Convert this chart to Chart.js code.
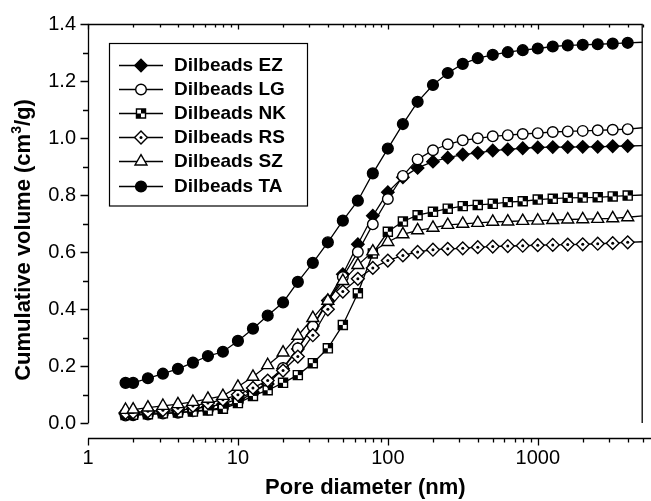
<!DOCTYPE html>
<html>
<head>
<meta charset="utf-8">
<script src="https://cdn.jsdelivr.net/npm/chart.js@4/dist/chart.umd.min.js"></script>
<style>
  body { margin: 0; background: #fff; }
</style>
</head>
<body>
<canvas id="carta_pores" width="651" height="501"></canvas>
<script>
// pore diameters (nm), points every 0.1 decade; the last one sits on the right frame
const poreDiameters = [1.78, 2.0, 2.51, 3.16, 3.98, 5.01, 6.31, 7.94, 10, 12.6, 15.8, 20, 25.1, 31.6, 39.8, 50.1, 63.1, 79.4,
    100, 126, 158, 200, 251, 316, 398, 501, 631, 794, 1000, 1259, 1585, 1995, 2512, 3162, 3981, 5012]

const seriesNames = ["Dilbeads EZ", "Dilbeads LG", "Dilbeads NK", "Dilbeads RS", "Dilbeads SZ", "Dilbeads TA"]

const volumeEZ = [0.032, 0.033, 0.037, 0.040, 0.044, 0.050, 0.057, 0.066, 0.085, 0.108, 0.137, 0.190, 0.260, 0.340, 0.430, 0.522,
    0.627, 0.727, 0.810, 0.862, 0.895, 0.917, 0.931, 0.942, 0.948, 0.956, 0.960, 0.964, 0.967, 0.968, 0.968, 0.969, 0.969, 0.971, 0.972, 0.973]
const volumeLG = [0.026, 0.027, 0.030, 0.033, 0.036, 0.041, 0.047, 0.053, 0.075, 0.105, 0.145, 0.193, 0.262, 0.339, 0.425, 0.512,
    0.600, 0.697, 0.786, 0.867, 0.925, 0.957, 0.978, 0.992, 0.999, 1.006, 1.010, 1.014, 1.017, 1.021, 1.023, 1.025, 1.027, 1.029, 1.031, 1.036]
const volumeNK = [0.028, 0.029, 0.031, 0.034, 0.037, 0.040, 0.044, 0.050, 0.070, 0.095, 0.115, 0.141, 0.168, 0.210, 0.262, 0.344,
    0.455, 0.595, 0.671, 0.707, 0.729, 0.741, 0.752, 0.761, 0.765, 0.769, 0.775, 0.778, 0.784, 0.787, 0.790, 0.791, 0.792, 0.795, 0.798, 0.800]
const volumeRS = [0.036, 0.037, 0.041, 0.045, 0.052, 0.060, 0.070, 0.082, 0.099, 0.123, 0.149, 0.184, 0.233, 0.308, 0.399, 0.461,
    0.506, 0.544, 0.570, 0.588, 0.600, 0.608, 0.611, 0.613, 0.617, 0.619, 0.621, 0.622, 0.624, 0.625, 0.626, 0.627, 0.629, 0.631, 0.634, 0.636]
const volumeSZ = [0.046, 0.047, 0.054, 0.060, 0.066, 0.074, 0.085, 0.095, 0.127, 0.162, 0.203, 0.247, 0.306, 0.368, 0.429, 0.498,
    0.554, 0.602, 0.635, 0.662, 0.676, 0.685, 0.695, 0.699, 0.702, 0.706, 0.707, 0.709, 0.710, 0.712, 0.714, 0.715, 0.716, 0.718, 0.722, 0.727]
const volumeTA = [0.141, 0.141, 0.157, 0.173, 0.190, 0.212, 0.235, 0.250, 0.288, 0.331, 0.377, 0.423, 0.495, 0.562, 0.634, 0.710,
    0.780, 0.876, 0.963, 1.049, 1.127, 1.186, 1.228, 1.260, 1.280, 1.292, 1.301, 1.308, 1.314, 1.321, 1.325, 1.327, 1.329, 1.331, 1.334, 1.336]

const seriesValues = [volumeEZ, volumeLG, volumeNK, volumeRS, volumeSZ, volumeTA]

const xTickLabels = [1, 10, 100, 1000]
const yMin = 0, yMax = 1.4, yStep = 0.1

Chart.defaults.font.family = "'Liberation Sans', Arial, Helvetica, sans-serif"
Chart.defaults.color = "#000"

// marker look for each series: style, radius, fill, draw order, extra detail
const markers = [
    { style: "rectRot", radius: 6.2, fill: "#000", order: 5, extra: null },
    { style: "circle", radius: 5.3, fill: "#fff", order: 4, extra: null },
    { style: "rect", radius: 6.4, fill: "#fff", order: 3, extra: "checker" },
    { style: "rectRot", radius: 6.4, fill: "#fff", order: 2, extra: "dot" },
    { style: "triangle", radius: 6.9, fill: "#fff", order: 1, extra: null },
    { style: "circle", radius: 5.4, fill: "#000", order: 6, extra: null }
]

// the NK checker squares and the RS centre dots, painted on top of the built-in marker
function drawExtra(ctx, kind, r, x, y) {
    ctx.fillStyle = "#000"
    if (kind === "checker") {
        const h = Math.SQRT1_2 * r
        ctx.fillRect(x, y - h, h, h)
        ctx.fillRect(x - h, y, h, h)
    } else if (kind === "dot") {
        ctx.beginPath()
        ctx.arc(x, y, 1.5, 0, Math.PI * 2)
        ctx.fill()
    }
}

const lastIndex = poreDiameters.length - 1

const datasets = seriesNames.map((name, s) => ({
    label: name,
    data: seriesValues[s].map((v, i) => ({ x: poreDiameters[i], y: v })),
    order: markers[s].order,
    borderColor: "#000",
    borderWidth: 1.3,
    tension: 0,
    fill: false,
    pointStyle: markers[s].style,
    pointRadius: (ctx) => ctx.dataIndex === lastIndex ? 0 : markers[s].radius,
    pointHoverRadius: (ctx) => ctx.dataIndex === lastIndex ? 0 : markers[s].radius,
    pointBackgroundColor: markers[s].fill,
    pointBorderColor: "#000",
    pointBorderWidth: 1.4
}))

const axisDecor = {
    id: "axisDecor",
    afterDatasetDraw(chart, args) {
        const kind = markers[args.index].extra
        if (!kind) return
        const { ctx, chartArea: a } = chart
        ctx.save()
        args.meta.data.forEach((el, i) => {
            if (i === lastIndex || el.x < a.left || el.x > a.right) return
            drawExtra(ctx, kind, markers[args.index].radius, el.x, el.y)
        })
        ctx.restore()
    },
    afterDraw(chart) {
        const { ctx, chartArea: a, scales: { x, y } } = chart
        ctx.save()
        ctx.strokeStyle = "#000"
        ctx.lineWidth = 1.3
        ctx.beginPath()
        ctx.moveTo(a.left + 0.5, a.bottom)
        ctx.lineTo(a.left + 0.5, a.top + 0.5)
        ctx.lineTo(a.right - 0.5, a.top + 0.5)
        ctx.lineTo(a.right - 0.5, a.bottom)
        ctx.stroke()

        // y ticks (outward on the left)
        ctx.beginPath()
        y.ticks.forEach(t => {
            const py = Math.round(y.getPixelForValue(t.value)) + 0.5
            const major = Math.round(t.value * 10) % 2 === 0
            ctx.moveTo(a.left + 0.5, py)
            ctx.lineTo(a.left + 0.5 - (major ? 8 : 5.5), py)
        })
        ctx.stroke()

        // x axis below the plot, ticks also on the top frame
        const axisY = a.bottom + 15.5
        ctx.beginPath()
        ctx.moveTo(a.left, axisY)
        ctx.lineTo(chart.width, axisY)
        xTickLabels.forEach(d => {
            for (let m = 1; m <= 9; m++) {
                const v = d * m
                if (v > x.max) break
                const px = Math.round(x.getPixelForValue(v)) + 0.5
                const major = m === 1
                ctx.moveTo(px, axisY)
                ctx.lineTo(px, axisY + (major ? 7 : 4))
                ctx.moveTo(px, a.top + 0.5)
                ctx.lineTo(px, a.top + 0.5 + (major ? 5 : 3))
            }
        })
        ctx.stroke()

        // y title with superscript
        ctx.translate(24, 240)
        ctx.rotate(-Math.PI / 2)
        ctx.fillStyle = "#000"
        ctx.textBaseline = "middle"
        const big = "bold 22px 'Liberation Sans', Arial, sans-serif"
        const small = "bold 14px 'Liberation Sans', Arial, sans-serif"
        const parts = [["Cumulative volume (cm", big, 0], ["3", small, -7], ["/g)", big, 0]]
        let total = 0
        parts.forEach(p => { ctx.font = p[1]; total += ctx.measureText(p[0]).width })
        let cx = -total / 2
        parts.forEach(p => {
            ctx.font = p[1]
            ctx.fillText(p[0], cx, p[2])
            cx += ctx.measureText(p[0]).width
        })
        ctx.restore()

        // legend box
        ctx.save()
        ctx.fillStyle = "#fff"
        ctx.fillRect(109.5, 43.5, 198, 162.5)
        ctx.strokeStyle = "#000"
        ctx.lineWidth = 1.2
        ctx.strokeRect(109.5, 43.5, 198, 162.5)
        ctx.font = "bold 19px 'Liberation Sans', Arial, sans-serif"
        ctx.textBaseline = "middle"
        seriesNames.forEach((name, s) => {
            const ry = Math.round(65 + s * 24.1) + 0.5
            ctx.beginPath()
            ctx.moveTo(119, ry)
            ctx.lineTo(163, ry)
            ctx.strokeStyle = "#000"
            ctx.lineWidth = 1.3
            ctx.stroke()
            ctx.fillStyle = markers[s].fill
            ctx.strokeStyle = "#000"
            ctx.lineWidth = 1.4
            Chart.helpers.drawPoint(ctx, {
                pointStyle: markers[s].style,
                radius: markers[s].radius,
                rotation: 0,
                borderWidth: 1.4
            }, 141, ry)
            if (markers[s].extra) drawExtra(ctx, markers[s].extra, markers[s].radius, 141, ry)
            ctx.fillStyle = "#000"
            ctx.fillText(name, 174, ry + 0.5)
        })
        ctx.restore()
    }
}

const carta_pores = document.getElementById("carta_pores")
new Chart(carta_pores, {
    type: "line",
    data: { datasets: datasets },
    plugins: [axisDecor],
    options: {
        responsive: false,
        animation: false,
        devicePixelRatio: 1,
        layout: { padding: { top: 20, right: 2, left: 0, bottom: 0 } },
        plugins: { legend: { display: false }, tooltip: { enabled: false } },
        scales: {
            x: {
                type: "logarithmic",
                min: 1,
                max: 5011.87,
                afterFit: (s) => { s.height = 78 },
                afterBuildTicks: (s) => { s.ticks = xTickLabels.map(v => ({ value: v })) },
                grid: { display: false, drawTicks: false },
                border: { display: false },
                ticks: {
                    autoSkip: false,
                    maxRotation: 0,
                    padding: 23,
                    font: { size: 20 },
                    callback: (v) => String(v)
                },
                title: {
                    display: true,
                    text: "Pore diameter (nm)",
                    font: { size: 22, weight: "bold" },
                    padding: { top: 0, bottom: 0 }
                }
            },
            y: {
                min: yMin,
                max: yMax,
                afterFit: (s) => { s.width = 88 },
                grid: { display: false, drawTicks: false },
                border: { display: false },
                ticks: {
                    stepSize: yStep,
                    padding: 12,
                    font: { size: 20 },
                    callback: (v) => Math.round(v * 10) % 2 === 0 ? v.toFixed(1) : ""
                }
            }
        }
    }
});
</script>
</body>
</html>
